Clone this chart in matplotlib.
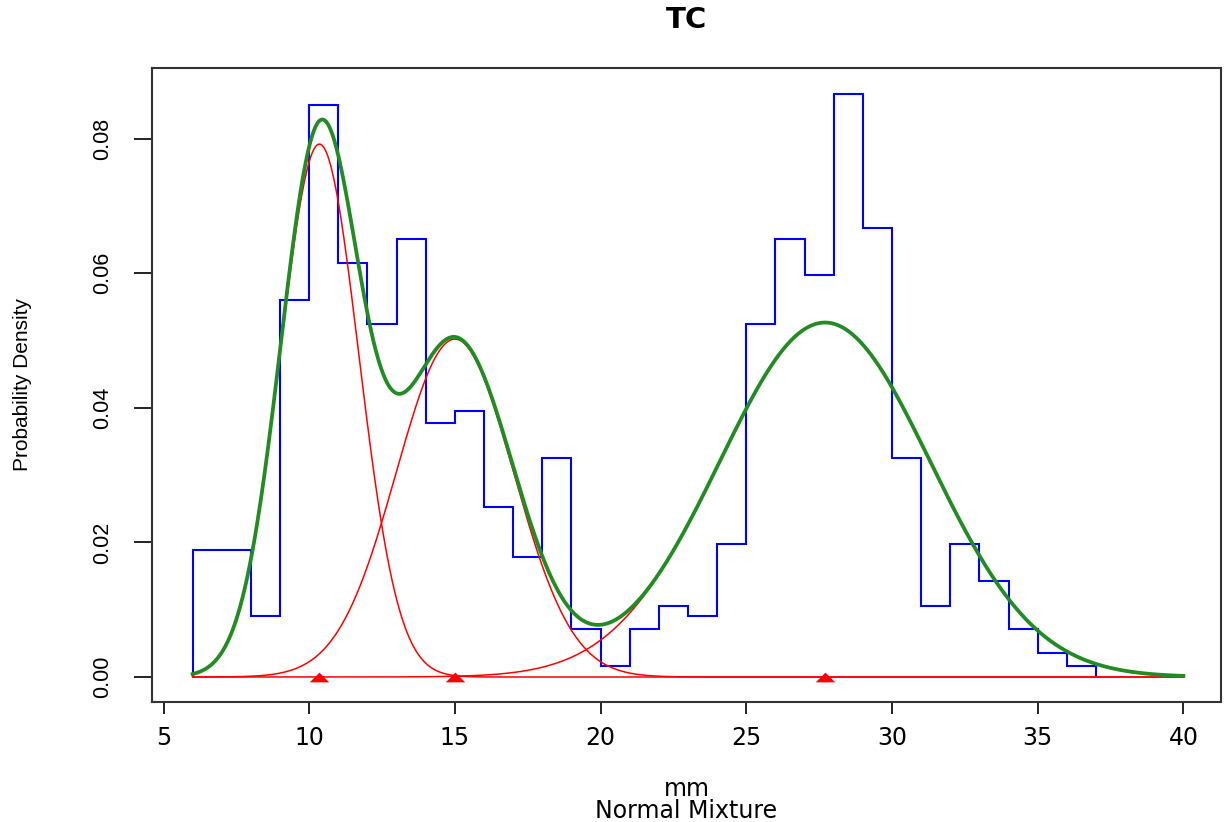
import numpy as np
import matplotlib
matplotlib.use("Agg")
import matplotlib.pyplot as plt

# ---- data ----
bin_edges = [6, 8, 9, 10, 11, 12, 13, 14, 15, 16, 17, 18, 19, 20, 21, 22,
             23, 24, 25, 26, 27, 28, 29, 30, 31, 32, 33, 34, 35, 36, 37]
bin_density = [0.0188, 0.0090, 0.0560, 0.0850, 0.0615, 0.0524, 0.0651,
               0.0378, 0.0396, 0.0253, 0.0178, 0.0325, 0.0071, 0.0016,
               0.0071, 0.0106, 0.0090, 0.0198, 0.0524, 0.0651, 0.0597,
               0.0867, 0.0668, 0.0325, 0.0106, 0.0198, 0.0143, 0.0071,
               0.0035, 0.0016]
comp_means = [10.35, 15.0, 27.7]
comp_sds = [1.35, 2.01, 3.62]
comp_props = [0.268, 0.253, 0.478]
x_range = [6, 40]
x_ticks = [5, 10, 15, 20, 25, 30, 35, 40]
y_ticks = [0.00, 0.02, 0.04, 0.06, 0.08]
y_tick_labels = ["0.00", "0.02", "0.04", "0.06", "0.08"]
title = "TC"
x_label = "mm"
sub_label = "Normal Mixture"
y_label = "Probability Density"

W, H = 1224, 822
fig = plt.figure(figsize=(W / 100, H / 100), dpi=100)
L, R, T, B = 152, 1221, 68.5, 701.7
ax = fig.add_axes([L / W, 1 - B / H, (R - L) / W, (B - T) / H])
ax.set_xlim(4.605, 41.29)
ax.set_ylim(-0.00367, 0.09043)

# histogram outline
ax.stairs(bin_density, bin_edges, baseline=0, fill=False, color="blue",
          lw=1.5, zorder=2)

# components and mixture
xs = np.linspace(x_range[0], x_range[1], 800)
comps = []
for m, s, p in zip(comp_means, comp_sds, comp_props):
    c = p * np.exp(-0.5 * ((xs - m) / s) ** 2) / (s * np.sqrt(2 * np.pi))
    comps.append(c)
    ax.plot(xs, c, color="red", lw=1.1, zorder=3)
mix = np.sum(comps, axis=0)
ax.plot(xs, mix, color="#228B22", lw=2.7, zorder=4)

# means markers
tri = [(-1, -0.5), (1, -0.5), (0, 0.5), (-1, -0.5)]
ax.plot(comp_means, [0] * len(comp_means), linestyle="none", marker=tri,
        markersize=14, color="red", markeredgewidth=0, zorder=5,
        clip_on=False)

# axes styling
for sp in ax.spines.values():
    sp.set_color("#333333")
    sp.set_linewidth(1.5)
ax.set_xticks(x_ticks)
ax.set_xticklabels([str(t) for t in x_ticks], fontsize=17,
                   family="DejaVu Sans")
ax.set_yticks(y_ticks)
ax.set_yticklabels(y_tick_labels, fontsize=15.5, family="Liberation Sans",
                   rotation=90, va="center")
ax.tick_params(axis="x", length=8.3, width=1.4, pad=9, color="#222222")
ax.tick_params(axis="y", length=13.3, width=1.4, pad=15, color="#222222")

# texts
fig.text(686.5 / W, 1 - 28.3 / H, title, ha="center", va="baseline",
         fontsize=21, fontweight="bold", family="DejaVu Sans")
fig.text(686.5 / W, 1 - 796 / H, x_label, ha="center", va="baseline",
         fontsize=17, family="DejaVu Sans")
fig.text(686.5 / W, 1 - 818 / H, sub_label, ha="center", va="baseline",
         fontsize=17, family="DejaVu Sans")
fig.text(23 / W, 1 - 384 / H, y_label, ha="center", va="center",
         rotation=90, fontsize=15, family="Liberation Sans")

fig.savefig("out.png", dpi=100, facecolor="white")
